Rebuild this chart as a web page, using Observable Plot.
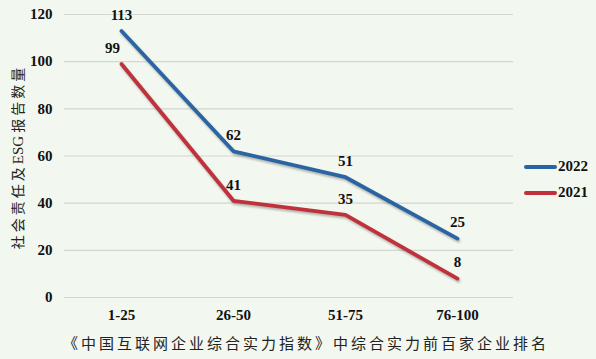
<!DOCTYPE html>
<html><head><meta charset="utf-8">
<script src="https://cdn.jsdelivr.net/npm/d3@7"></script>
<script src="https://cdn.jsdelivr.net/npm/@observablehq/plot@0.6"></script>
<style>
body{margin:0;background:#f2f7ef;}
#wrap{position:relative;width:596px;height:359px;background:#f2f7ef;overflow:hidden;}
#wrap svg{position:absolute;left:0;top:0;background:transparent;}
g[aria-label="line"] path{filter:drop-shadow(1px 2px 1.2px rgba(0,0,0,0.28));}
.ylab{position:absolute;left:18px;top:157px;transform:translate(-50%,-50%) rotate(-90deg);white-space:nowrap;font-family:"Noto Sans CJK SC",sans-serif;font-size:14px;letter-spacing:3px;color:#222;line-height:1;}
.ylab .lat{letter-spacing:0;font-family:"Liberation Serif",serif;font-size:15px;margin-right:3px;}
.xlab{position:absolute;left:306px;top:342px;transform:translate(-50%,-50%);white-space:nowrap;font-family:"Noto Sans CJK SC",sans-serif;font-size:15px;letter-spacing:3px;color:#222;line-height:1;}
.leg{position:absolute;left:524px;font-family:"Liberation Serif",serif;font-weight:bold;font-size:15px;color:#111;display:flex;align-items:center;line-height:1;}
.leg span.sw{display:inline-block;width:33px;height:4px;border-radius:2px;margin-right:1px;}
</style></head>
<body><div id="wrap"></div>
<script>
const categories = ["1-25","26-50","51-75","76-100"];
const series = ["2022","2021"];
const values2022 = [113,62,51,25];
const values2021 = [99,41,35,8];
const colors = ["#2a64a2","#c0313b"];
const yTicks = [0,20,40,60,80,100,120];
const yLabelParts = ["社会责任及","ESG","报告数量"];
const xLabel = "《中国互联网企业综合实力指数》中综合实力前百家企业排名";

const data = [];
categories.forEach((c,i)=>{data.push({cat:c,series:"2022",v:values2022[i]});});
categories.forEach((c,i)=>{data.push({cat:c,series:"2021",v:values2021[i]});});

const serif = "'Liberation Serif', 'Times New Roman', serif";
const chart = Plot.plot({
  width:596, height:359,
  marginLeft:64, marginRight:83, marginTop:14, marginBottom:62,
  style:{background:"transparent", fontFamily:serif},
  x:{type:"point", domain:categories, padding:0.5},
  y:{domain:[0,120]},
  color:{domain:series, range:colors},
  marks:[
    Plot.ruleY(yTicks,{stroke:"#d3d6d1", strokeWidth:1.2}),
    Plot.axisY({ticks:yTicks, tickSize:0, tickPadding:12, label:null, fontSize:15, fontWeight:"bold", fill:"#111"}),
    Plot.axisX({tickSize:0, tickPadding:12, label:null, fontSize:15, fontWeight:"bold", fill:"#111"}),
    Plot.line(data,{x:"cat", y:"v", z:"series", stroke:"series", strokeWidth:3.8}),
    Plot.text(data.filter(d=>!(d.series==="2021"&&d.cat==="1-25")),{x:"cat", y:"v", text:"v", dy:-16, fontSize:15, fontWeight:"bold", fill:"#111"}),
    Plot.text(data.filter(d=>d.series==="2021"&&d.cat==="1-25"),{x:"cat", y:"v", text:"v", dx:-9, dy:-16, fontSize:15, fontWeight:"bold", fill:"#111"})
  ]
});
const wrap = document.getElementById("wrap");
wrap.appendChild(chart);
const yl=document.createElement("div");yl.className="ylab";
yl.innerHTML=`${yLabelParts[0]}<span class="lat">${yLabelParts[1]}</span>${yLabelParts[2]}`;
wrap.appendChild(yl);
const xl=document.createElement("div");xl.className="xlab";xl.textContent=xLabel;wrap.appendChild(xl);
series.forEach((s,i)=>{
  const d=document.createElement("div");d.className="leg";d.style.top=(159+i*26)+"px";
  d.innerHTML=`<span class="sw" style="background:${colors[i]}"></span>${s}`;
  wrap.appendChild(d);
});
</script></body></html>
